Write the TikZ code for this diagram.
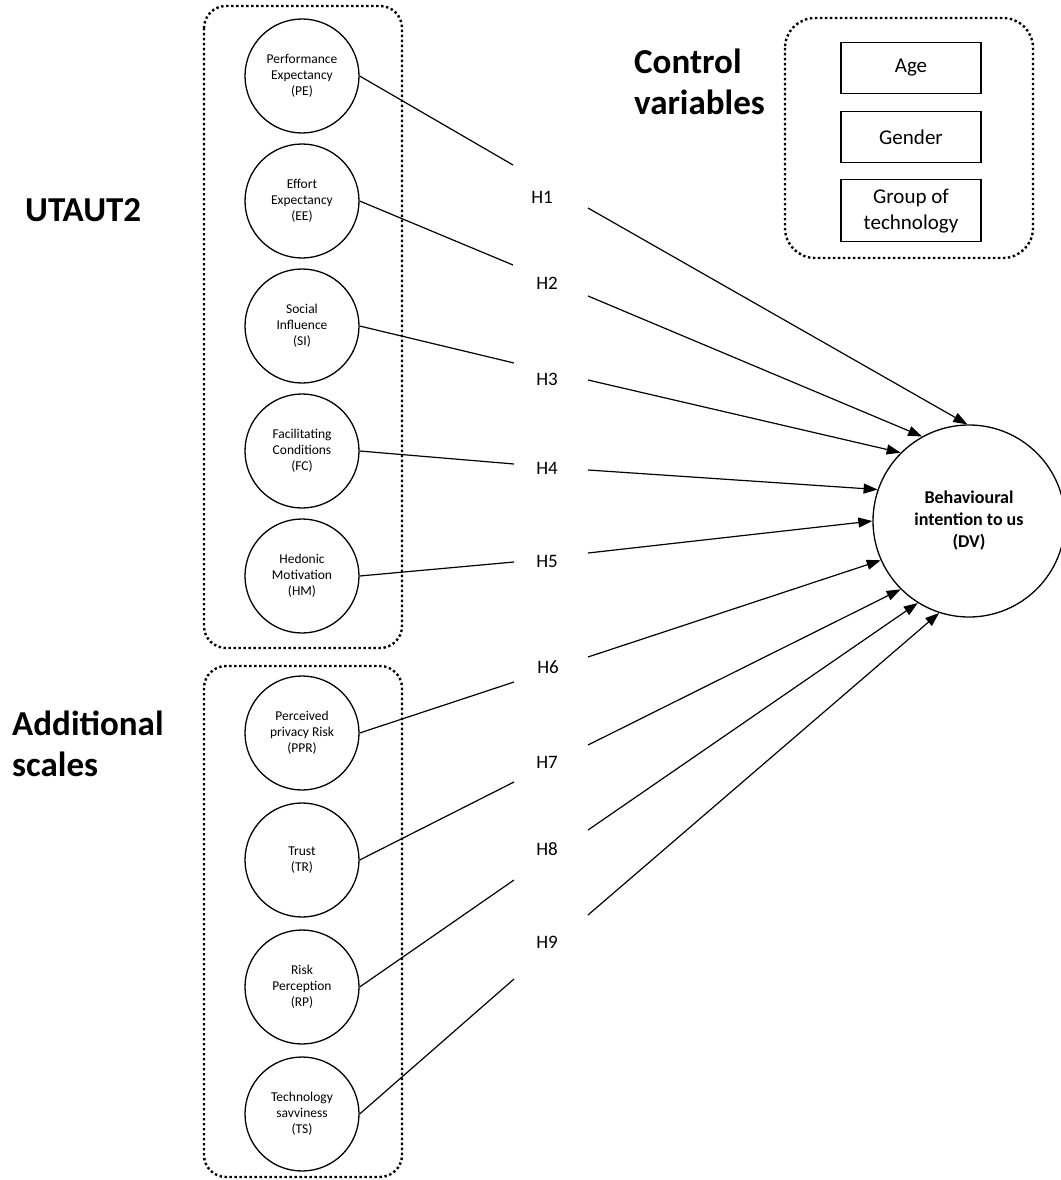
\documentclass[tikz,border=0pt]{standalone}
\usepackage{fontspec}
\setmainfont{Carlito}
\usetikzlibrary{positioning}
\usetikzlibrary{arrows.meta}
\tikzset{edge/.style = {-{Triangle[length=14pt,width=10pt]}, line width=1.2pt}}
\tikzset{link/.style = {line width=1.2pt}}

\begin{document}
\begin{tikzpicture}[x=1pt,y=-1pt,node distance=125pt,
    var node/.style={circle,draw,line width=1.3pt,minimum size=114pt,inner sep=0pt,align=center,font=\fontsize{13.5}{16}\selectfont},
    dv node/.style={circle,draw,line width=1.3pt,minimum size=192pt,inner sep=0pt,align=center,font=\fontsize{18}{22}\selectfont\bfseries},
    group box/.style={draw,line width=2.4pt,dash pattern=on 2.4pt off 2.6pt,rounded corners=22pt},
    ctrl node/.style={draw,line width=1.3pt,minimum width=140pt,minimum height=51pt,align=center,font=\fontsize{21}{26}\selectfont},
    hyp/.style={inner sep=0pt,font=\fontsize{19}{22}\selectfont},
    head/.style={inner sep=0pt,align=left,font=\fontsize{35}{41}\selectfont\bfseries}]

                \useasboundingbox (0,0) rectangle (1060,1180);

                % groups
                \draw[group box] (204,6) rectangle (402,648);
                \draw[group box] (204,666) rectangle (402,1177);
                \draw[group box, rounded corners=30pt] (785,18) rectangle (1033,258);

                \node[head, anchor=base west] (utaut) at (25,221) {UTAUT2};
                \node[head, anchor=west] (addit) at (12,744) {Additional\\scales};
                \node[head, anchor=west] (ctrl) at (634,82) {Control\\variables};

                % UTAUT2 constructs
                \node[var node] (PE) at (302,76) {Performance\\Expectancy\\(PE)};
                \node[var node] (EE) [below of=PE] {Effort\\Expectancy\\(EE)};
                \node[var node] (SI) [below of=EE] {Social\\Influence\\(SI)};
                \node[var node] (FC) [below of=SI] {Facilitating\\Conditions\\(FC)};
                \node[var node] (HM) [below of=FC] {Hedonic\\Motivation\\(HM)};

                % additional scales
                \node[var node] (PPR) at (302,733) {Perceived\\privacy Risk\\(PPR)};
                \node[var node] (TR) [below of=PPR, node distance=127pt] {Trust\\(TR)};
                \node[var node] (RP) [below of=TR, node distance=127pt] {Risk\\Perception\\(RP)};
                \node[var node] (TS) [below of=RP, node distance=127pt] {Technology\\savviness\\(TS)};

                % control variables
                \node[ctrl node] (age) at (911,68) {Age};
                \node[ctrl node] (gender) [below of=age, node distance=69pt] {Gender};
                \node[ctrl node, minimum height=62pt] (group) [below=16pt of gender] {Group of\\technology};

                \node[dv node] (DV) at (969,521) {Behavioural\\intention to us\\(DV)};

                % hypotheses
                \node[hyp] (h1) at (542,197) {H1};
                \node[hyp] (h2) at (547,283) {H2};
                \node[hyp] (h3) at (547,379) {H3};
                \node[hyp] (h4) at (547,468) {H4};
                \node[hyp] (h5) at (547,561) {H5};
                \node[hyp] (h6) at (548,667) {H6};
                \node[hyp] (h7) at (547,762) {H7};
                \node[hyp] (h8) at (547,849) {H8};
                \node[hyp] (h9) at (547,942) {H9};

                \coordinate (h1a) at (513,165); \coordinate (h1b) at (588,208);
                \coordinate (h2a) at (513,265); \coordinate (h2b) at (588,296);
                \coordinate (h3a) at (514,363); \coordinate (h3b) at (588,380);
                \coordinate (h4a) at (514,464); \coordinate (h4b) at (588,470);
                \coordinate (h5a) at (514,562); \coordinate (h5b) at (588,553);
                \coordinate (h6a) at (514,682); \coordinate (h6b) at (588,657);
                \coordinate (h7a) at (514,782); \coordinate (h7b) at (588,745);
                \coordinate (h8a) at (514,880); \coordinate (h8b) at (588,830);
                \coordinate (h9a) at (514,979); \coordinate (h9b) at (588,915);

                \path[link] (PE.east) edge[] node {} (h1a);
                \path[link] (EE.east) edge[] node {} (h2a);
                \path[link] (SI.east) edge[] node {} (h3a);
                \path[link] (FC.east) edge[] node {} (h4a);
                \path[link] (HM.east) edge[] node {} (h5a);
                \path[link] (PPR.east) edge[] node {} (h6a);
                \path[link] (TR.east) edge[] node {} (h7a);
                \path[link] (RP.east) edge[] node {} (h8a);
                \path[link] (TS.east) edge[] node {} (h9a);

                \path[edge] (h1b) edge[] node {} (DV.91);
                \path[edge] (h2b) edge[] node {} (DV.119);
                \path[edge] (h3b) edge[] node {} (DV.135);
                \path[edge] (h4b) edge[] node {} (DV.161);
                \path[edge] (h5b) edge[] node {} (DV.180);
                \path[edge] (h6b) edge[] node {} (DV.204);
                \path[edge] (h7b) edge[] node {} (DV.225);
                \path[edge] (h8b) edge[] node {} (DV.238);
                \path[edge] (h9b) edge[] node {} (DV.252);
            \end{tikzpicture}
\end{document}
